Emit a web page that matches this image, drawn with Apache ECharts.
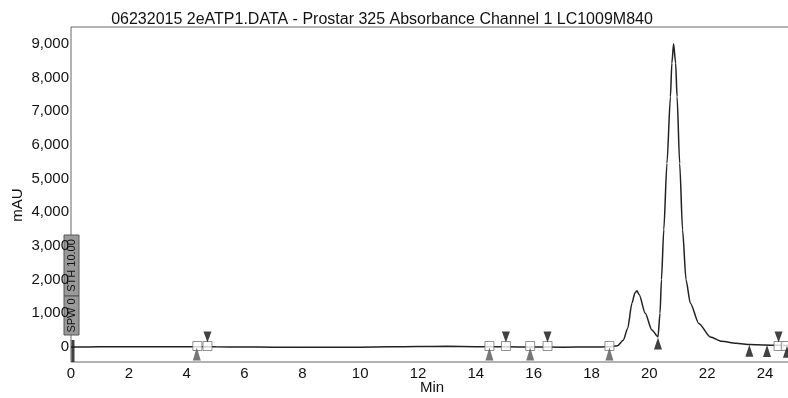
<!DOCTYPE html>
<html>
<head>
<meta charset="utf-8">
<script src="https://cdn.jsdelivr.net/npm/echarts@6/dist/echarts.min.js"></script>
<style>
  html, body { margin: 0; padding: 0; background: #fff; }
  #chart { width: 788px; height: 398px; }
</style>
</head>
<body>
<div id="chart"></div>
<script>
// retention time (min) and absorbance (mAU)
const times = [0, 1, 2, 3, 4, 4.5, 5, 6, 7, 8, 9, 10, 11, 12, 13, 14, 15, 16, 17, 18, 18.6, 18.9, 19.1, 19.25, 19.4, 19.5, 19.57, 19.65, 19.86, 20.09, 20.3, 20.37, 20.42, 20.5, 20.61, 20.73, 20.78, 20.84, 20.91, 20.96, 21.05, 21.15, 21.27, 21.42, 21.71, 22.11, 22.5, 23.0, 23.5, 24.0, 24.4, 24.9]
const mau = [0, 5, 5, 5, 5, 10, 5, 0, -5, -10, -10, -5, 5, 15, 20, 10, 5, 0, -5, 0, 5, 40, 200, 550, 1300, 1600, 1670, 1550, 1000, 505, 300, 1000, 2000, 3480, 5450, 7430, 8430, 9000, 8430, 7430, 5450, 3480, 1990, 1300, 700, 300, 170, 110, 75, 60, 50, 40]

// integration event markers
const squareTimes = [4.37, 4.72, 14.47, 15.04, 15.88, 16.48, 18.62, 24.47, 24.72]
const peakStartTimes = [4.35, 14.47, 15.88, 18.62]
const peakEndTimes = [4.72, 15.04, 16.48, 24.47]
const dropTimes = [20.3, 23.46, 24.07, 24.76]
const dropValues = [280, 70, 60, 40]

const xTicks = [0, 2, 4, 6, 8, 10, 12, 14, 16, 18, 20, 22, 24]
const yTicks = [0, 1000, 2000, 3000, 4000, 5000, 6000, 7000, 8000, 9000]

const font = 'Liberation Sans, Arial, sans-serif'
const chart = echarts.init(document.getElementById('chart'))

chart.setOption({
  animation: false,
  title: {
    text: '06232015 2eATP1.DATA - Prostar 325 Absorbance Channel 1 LC1009M840',
    left: 377,
    top: 7,
    textAlign: 'center',
    textStyle: { fontFamily: font, fontSize: 16, fontWeight: 'normal', color: '#111' }
  },
  grid: {
    left: 71, top: 27, right: -3, bottom: 36,
    outerBoundsMode: 'none',
    containLabel: false,
    show: true, borderColor: '#666', borderWidth: 1
  },
  xAxis: {
    type: 'value',
    min: 0,
    max: 24.9,
    axisLine: { show: false },
    axisTick: { show: false },
    splitLine: { show: false },
    axisLabel: {
      customValues: xTicks,
      margin: 4,
      fontFamily: font, fontSize: 15, color: '#111'
    }
  },
  yAxis: {
    type: 'value',
    min: -445,
    max: 9500,
    axisLine: { show: false },
    axisTick: { show: false },
    splitLine: { show: false },
    axisLabel: {
      customValues: yTicks,
      margin: 2,
      fontFamily: font, fontSize: 15, color: '#111',
      formatter: v => v.toLocaleString('en-US')
    }
  },
  graphic: [
    { type: 'text', x: 18, y: 205, rotation: Math.PI / 2,
      style: { text: 'mAU', font: '15px ' + font, fill: '#111', align: 'center', verticalAlign: 'middle' } },
    { type: 'text', x: 432, y: 388,
      style: { text: 'Min', font: '15px ' + font, fill: '#111', align: 'center', verticalAlign: 'middle' } },
    { type: 'rect', shape: { x: 64, y: 235, width: 15, height: 61 },
      style: { fill: '#999', stroke: '#555', lineWidth: 1 } },
    { type: 'rect', shape: { x: 64, y: 296, width: 15, height: 39 },
      style: { fill: '#999', stroke: '#555', lineWidth: 1 } },
    { type: 'text', x: 71.5, y: 265.5, rotation: Math.PI / 2,
      style: { text: 'STH 10.00', font: '11px ' + font, fill: '#111', align: 'center', verticalAlign: 'middle' } },
    { type: 'text', x: 71.5, y: 315.5, rotation: Math.PI / 2,
      style: { text: 'SPW 0', font: '11px ' + font, fill: '#111', align: 'center', verticalAlign: 'middle' } }
  ],
  series: [
    {
      type: 'line',
      data: times.map((t, i) => [t, mau[i]]),
      smooth: 0.25,
      smoothMonotone: 'x',
      showSymbol: false,
      lineStyle: { color: '#222', width: 1.5 },
      z: 2
    },
    {
      type: 'scatter',
      data: squareTimes.map(t => [t, 0]),
      symbol: 'rect',
      symbolSize: 9,
      symbolOffset: [0, -1],
      itemStyle: { color: '#fff', borderColor: '#777', borderWidth: 1 },
      z: 3
    },
    {
      type: 'scatter',
      data: peakStartTimes.map(t => [t, 0]),
      symbol: 'triangle',
      symbolSize: [8, 13],
      symbolOffset: [0, 7],
      itemStyle: { color: '#555' },
      z: 4
    },
    {
      type: 'scatter',
      data: peakEndTimes.map(t => [t, 0]),
      symbol: 'triangle',
      symbolRotate: 180,
      symbolSize: [8, 11],
      symbolOffset: [0, -10],
      itemStyle: { color: '#111' },
      z: 4
    },
    {
      type: 'scatter',
      data: dropTimes.map((t, i) => [t, dropValues[i]]),
      symbol: 'triangle',
      symbolSize: [8, 12],
      symbolOffset: [0, 6],
      itemStyle: { color: '#111' },
      z: 4
    },
    {
      // run start marker
      type: 'scatter',
      data: [[0, 0]],
      symbol: 'rect',
      symbolSize: [3, 22],
      symbolOffset: [2, 4],
      itemStyle: { color: '#111' },
      z: 4
    }
  ]
})
</script>
</body>
</html>
